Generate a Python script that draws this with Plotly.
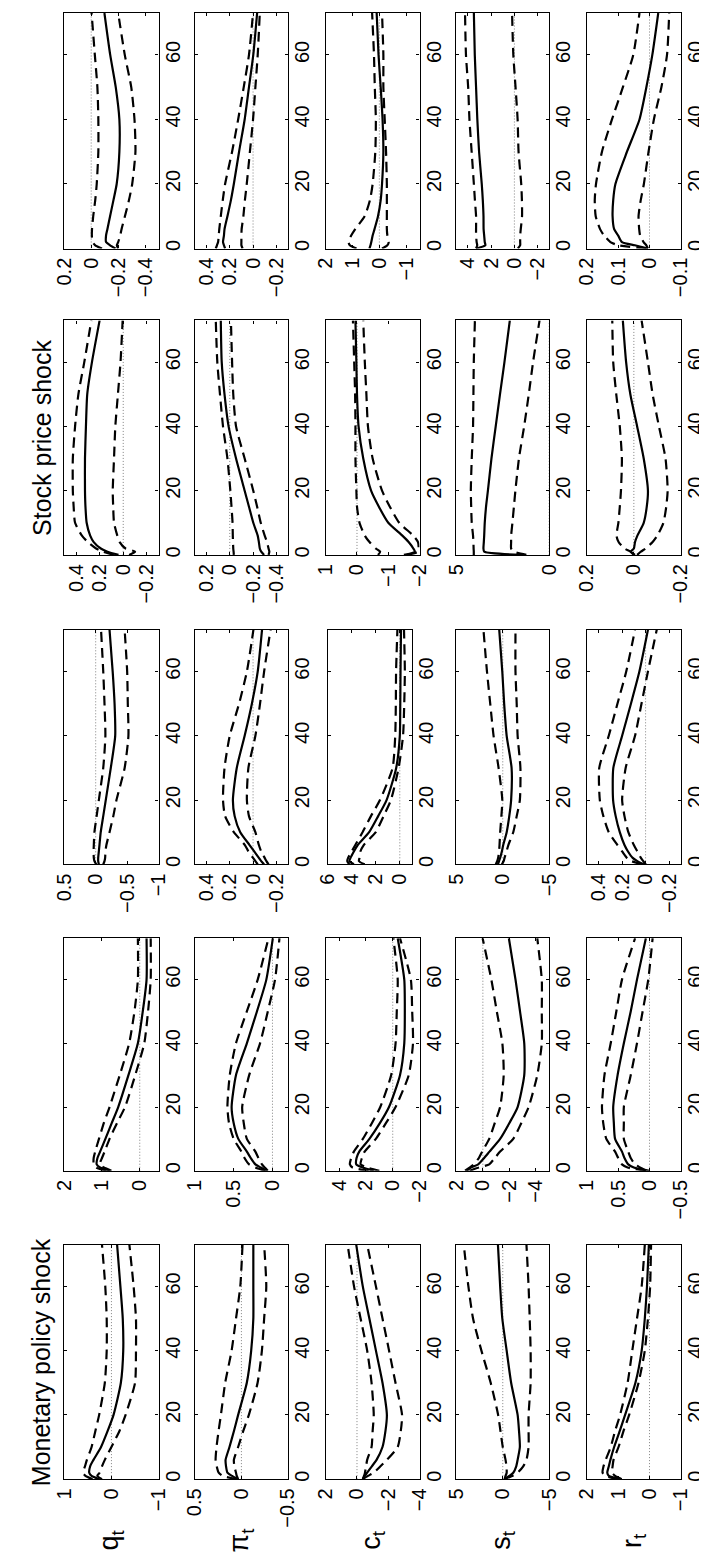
import plotly.graph_objects as go

W, H = 707, 1560
HORIZON = 73
T = [0, 1, 2, 4, 6, 10, 15, 20, 30, 40, 50, 60, 73]
TIME_TICKS = [0, 20, 40, 60]
VARS = ["q", "pi", "c", "s", "r"]
VAR_LABELS = ["q<sub>t</sub>", "π<sub>t</sub>", "c<sub>t</sub>", "s<sub>t</sub>", "r<sub>t</sub>"]
COL_TITLES = {1: "Monetary policy shock", 4: "Stock price shock"}

# ---------------- column 1 : Monetary policy shock ----------------
q1_med = [0.26, 0.42, 0.47, 0.45, 0.38, 0.22, 0.08, -0.045, -0.2, -0.25, -0.24, -0.19, -0.12]
q1_up = [0.4, 0.55, 0.6, 0.56, 0.52, 0.42, 0.34, 0.26, 0.14, 0.1, 0.1, 0.13, 0.2]
q1_lo = [0.2, 0.3, 0.25, 0.2, 0.14, 0.0, -0.17, -0.3, -0.5, -0.52, -0.52, -0.47, -0.38]
pi1_med = [0.035, 0.1, 0.15, 0.165, 0.17, 0.128, 0.08, 0.035, -0.058, -0.105, -0.128, -0.128, -0.128]
pi1_up = [0.05, 0.2, 0.244, 0.265, 0.277, 0.267, 0.245, 0.22, 0.174, 0.105, 0.058, 0.012, -0.012]
pi1_lo = [0.035, 0.05, 0.058, 0.075, 0.081, 0.035, -0.02, -0.08, -0.174, -0.22, -0.244, -0.267, -0.244]
c1_med = [-0.37, -0.5, -0.65, -0.95, -1.25, -1.63, -1.82, -1.91, -1.63, -1.21, -0.79, -0.37, 0.05]
c1_up = [-0.37, -0.45, -0.51, -0.58, -0.65, -0.93, -1.0, -1.07, -0.93, -0.65, -0.23, 0.19, 0.6]
c1_lo = [-0.37, -0.7, -1.07, -1.5, -1.91, -2.6, -2.8, -2.88, -2.46, -2.05, -1.63, -1.21, -0.65]
s1_med = [-0.19, -0.7, -1.13, -1.45, -1.6, -1.84, -1.75, -1.6, -0.9, -0.42, 0.05, 0.28, 0.52]
s1_up = [-0.19, -0.3, -0.42, -0.4, -0.3, 0.0, 0.25, 0.5, 1.3, 2.3, 3.2, 3.7, 4.2]
s1_lo = [-0.19, -1.0, -1.6, -2.2, -2.55, -2.78, -2.78, -2.78, -3.0, -3.0, -2.9, -2.78, -2.55]
r1_med = [0.89, 1.3, 1.35, 1.3, 1.25, 1.13, 0.95, 0.78, 0.45, 0.25, 0.15, 0.08, 0.02]
r1_up = [1.0, 1.4, 1.5, 1.47, 1.4, 1.24, 1.1, 0.94, 0.7, 0.55, 0.4, 0.25, 0.15]
r1_lo = [0.89, 1.1, 1.2, 1.18, 1.15, 0.99, 0.83, 0.65, 0.35, 0.15, 0.05, -0.02, -0.05]

# ---------------- column 2 ----------------
q2_med = [0.8, 1.05, 1.14, 1.12, 1.05, 0.91, 0.74, 0.57, 0.3, 0.05, -0.08, -0.18, -0.18]
q2_up = [0.9, 1.15, 1.22, 1.22, 1.18, 1.08, 0.95, 0.8, 0.53, 0.28, 0.14, 0.05, 0.05]
q2_lo = [0.75, 0.95, 1.06, 1.0, 0.93, 0.8, 0.6, 0.39, 0.12, -0.12, -0.22, -0.29, -0.29]
pi2_med = [0.079, 0.15, 0.22, 0.28, 0.33, 0.44, 0.5, 0.526, 0.47, 0.33, 0.2, 0.079, -0.005]
pi2_up = [0.1, 0.22, 0.3, 0.36, 0.4, 0.5, 0.56, 0.58, 0.55, 0.47, 0.33, 0.19, 0.051]
pi2_lo = [0.06, 0.1, 0.135, 0.18, 0.22, 0.33, 0.37, 0.39, 0.3, 0.16, 0.06, -0.033, -0.09]
c2_med = [1.42, 2.23, 2.72, 2.7, 2.5, 1.74, 0.95, 0.28, -0.54, -0.86, -0.9, -0.86, -0.37]
c2_up = [1.8, 3.0, 3.2, 3.1, 2.9, 2.23, 1.55, 0.93, 0.12, -0.21, -0.3, -0.37, -0.05]
c2_lo = [1.0, 1.9, 2.4, 2.3, 2.1, 1.26, 0.5, -0.21, -1.19, -1.51, -1.45, -1.35, -0.54]
s2_med = [1.2, 0.9, 0.35, -0.1, -0.5, -1.3, -2.0, -2.62, -3.12, -3.12, -2.8, -2.46, -1.96]
s2_up = [1.34, 1.0, 0.68, 0.3, 0.05, -0.48, -0.9, -1.3, -1.57, -1.47, -1.05, -0.64, 0.02]
s2_lo = [1.0, 0.3, -0.48, -0.9, -1.3, -2.29, -2.9, -3.45, -4.1, -4.44, -4.44, -4.44, -4.1]
r2_med = [0.0, 0.25, 0.34, 0.4, 0.44, 0.55, 0.57, 0.58, 0.51, 0.41, 0.3, 0.2, 0.058]
r2_up = [0.06, 0.35, 0.44, 0.5, 0.55, 0.69, 0.74, 0.76, 0.72, 0.62, 0.53, 0.44, 0.23]
r2_lo = [0.06, 0.15, 0.23, 0.3, 0.34, 0.41, 0.41, 0.41, 0.3, 0.2, 0.11, 0.02, -0.05]

# ---------------- column 3 ----------------
q3_med = [-0.05, -0.04, -0.04, -0.05, -0.06, -0.08, -0.12, -0.16, -0.24, -0.31, -0.3, -0.27, -0.22]
q3_up = [-0.01, 0.02, 0.03, 0.033, 0.03, 0.02, -0.015, -0.05, -0.12, -0.154, -0.14, -0.12, -0.085]
q3_lo = [-0.12, -0.14, -0.15, -0.155, -0.17, -0.22, -0.28, -0.33, -0.46, -0.52, -0.51, -0.5, -0.46]
pi3_med = [-0.095, -0.07, -0.05, -0.01, 0.03, 0.11, 0.158, 0.173, 0.14, 0.072, 0.01, -0.04, -0.077]
pi3_up = [-0.04, -0.02, 0.0, 0.04, 0.07, 0.165, 0.24, 0.258, 0.245, 0.2, 0.12, 0.053, -0.003]
pi3_lo = [-0.133, -0.115, -0.1, -0.07, -0.05, -0.02, 0.035, 0.053, 0.04, -0.02, -0.06, -0.095, -0.15]
c3_med = [3.82, 4.19, 4.1, 3.82, 3.5, 2.55, 1.8, 1.1, 0.3, 0.0, -0.04, -0.06, -0.1]
c3_up = [4.2, 4.37, 4.3, 4.0, 3.7, 3.1, 2.4, 1.65, 0.6, 0.38, 0.33, 0.31, 0.2]
c3_lo = [2.92, 3.4, 3.35, 3.28, 3.0, 2.0, 1.35, 0.74, 0.1, -0.27, -0.37, -0.42, -0.35]
s3_med = [0.52, 0.4, 0.28, 0.1, -0.05, -0.42, -0.7, -0.9, -0.95, -0.42, -0.15, 0.05, 0.38]
s3_up = [0.75, 0.6, 0.5, 0.4, 0.35, 0.28, 0.15, 0.05, 0.45, 0.99, 1.35, 1.7, 2.08]
s3_lo = [0.1, -0.1, -0.19, -0.4, -0.6, -1.13, -1.5, -1.84, -1.9, -1.6, -1.5, -1.37, -1.37]
r3_med = [0.016, 0.07, 0.11, 0.15, 0.18, 0.22, 0.255, 0.277, 0.275, 0.2, 0.125, 0.053, -0.02]
r3_up = [0.03, 0.12, 0.16, 0.2, 0.24, 0.314, 0.36, 0.39, 0.395, 0.314, 0.24, 0.165, 0.09]
r3_lo = [-0.002, 0.02, 0.04, 0.07, 0.1, 0.147, 0.18, 0.2, 0.17, 0.09, 0.035, -0.02, -0.095]

# ---------------- column 4 : Stock price shock ----------------
q4_med = [0.04, 0.133, 0.19, 0.25, 0.28, 0.31, 0.32, 0.324, 0.324, 0.316, 0.305, 0.265, 0.2]
q4_up = [0.08, 0.17, 0.23, 0.3, 0.35, 0.408, 0.42, 0.427, 0.427, 0.408, 0.38, 0.33, 0.27]
q4_lo = [-0.05, -0.1, -0.02, 0.03, 0.05, 0.078, 0.085, 0.089, 0.078, 0.067, 0.045, 0.023, 0.005]
pi4_med = [-0.295, -0.27, -0.258, -0.25, -0.24, -0.202, -0.165, -0.128, -0.054, 0.01, 0.045, 0.069, 0.077]
pi4_up = [-0.035, -0.033, -0.03, -0.028, -0.026, -0.024, -0.015, -0.005, 0.02, 0.058, 0.084, 0.107, 0.12]
pi4_lo = [-0.333, -0.34, -0.333, -0.32, -0.3, -0.266, -0.235, -0.202, -0.128, -0.054, -0.03, -0.02, -0.01]
c4_med = [-1.5, -1.85, -1.8, -1.65, -1.45, -1.0, -0.7, -0.45, -0.2, -0.05, 0.0, 0.02, 0.05]
c4_up = [-0.67, -0.74, -0.6, -0.4, -0.25, -0.08, 0.0, 0.02, 0.05, 0.05, 0.06, 0.09, 0.13]
c4_lo = [-1.6, -1.95, -1.97, -1.95, -1.8, -1.35, -1.05, -0.8, -0.5, -0.35, -0.3, -0.25, -0.2]
s4_med = [1.46, 3.5, 3.54, 3.52, 3.5, 3.47, 3.4, 3.3, 3.11, 2.88, 2.65, 2.41, 2.12]
s4_up = [4.06, 4.06, 4.07, 4.08, 4.1, 4.17, 4.2, 4.22, 4.17, 4.1, 4.08, 4.06, 4.0]
s4_lo = [1.23, 1.9, 2.05, 2.05, 2.05, 1.98, 1.9, 1.82, 1.63, 1.35, 1.1, 0.87, 0.52]
r4_med = [-0.005, 0.014, 0.0, -0.005, -0.015, -0.042, -0.055, -0.06, -0.042, -0.014, 0.015, 0.033, 0.047]
r4_up = [0.0, 0.014, 0.04, 0.065, 0.074, 0.066, 0.06, 0.055, 0.051, 0.06, 0.075, 0.088, 0.092]
r4_lo = [-0.014, -0.03, -0.05, -0.08, -0.1, -0.126, -0.138, -0.144, -0.135, -0.107, -0.08, -0.06, -0.033]

# ---------------- column 5 ----------------
q5_med = [-0.18, -0.14, -0.11, -0.11, -0.12, -0.14, -0.165, -0.189, -0.209, -0.209, -0.182, -0.141, -0.098]
q5_up = [-0.08, -0.03, -0.01, -0.005, -0.006, -0.015, -0.03, -0.041, -0.053, -0.053, -0.046, -0.027, -0.003]
q5_lo = [-0.2, -0.19, -0.2, -0.215, -0.225, -0.25, -0.28, -0.304, -0.328, -0.321, -0.297, -0.249, -0.2]
pi5_med = [0.24, 0.25, 0.258, 0.25, 0.245, 0.22, 0.19, 0.165, 0.12, 0.072, 0.035, -0.002, -0.035]
pi5_up = [0.32, 0.31, 0.3, 0.295, 0.29, 0.277, 0.26, 0.24, 0.18, 0.128, 0.08, 0.035, 0.0]
pi5_lo = [0.09, 0.1, 0.1, 0.1, 0.098, 0.083, 0.07, 0.054, 0.027, 0.0, -0.02, -0.04, -0.058]
c5_med = [0.37, 0.33, 0.3, 0.25, 0.18, 0.05, -0.05, -0.1, -0.15, -0.12, -0.05, 0.03, 0.1]
c5_up = [0.85, 1.1, 1.15, 1.05, 0.9, 0.55, 0.35, 0.25, 0.15, 0.13, 0.17, 0.2, 0.27]
c5_lo = [-0.1, -0.3, -0.35, -0.3, -0.28, -0.28, -0.28, -0.28, -0.25, -0.2, -0.15, -0.15, -0.1]
s5_med = [3.3, 2.5, 2.55, 2.6, 2.65, 2.66, 2.72, 2.81, 3.04, 3.19, 3.3, 3.41, 3.49]
s5_up = [3.3, 3.2, 3.25, 3.3, 3.3, 3.3, 3.4, 3.49, 3.68, 3.87, 3.98, 4.17, 4.25]
s5_lo = [-0.3, -0.5, -0.5, -0.5, -0.55, -0.66, -0.65, -0.59, -0.36, -0.28, -0.1, 0.09, 0.2]
r5_med = [0.005, 0.047, 0.088, 0.1, 0.113, 0.118, 0.116, 0.109, 0.072, 0.032, 0.01, -0.009, -0.028]
r5_up = [0.01, 0.1, 0.125, 0.145, 0.158, 0.172, 0.175, 0.171, 0.152, 0.12, 0.085, 0.052, 0.032]
r5_lo = [0.005, 0.01, 0.019, 0.03, 0.033, 0.035, 0.028, 0.018, 0.003, -0.014, -0.038, -0.056, -0.063]

DATA = {
    1: {"q": (q1_med, q1_up, q1_lo), "pi": (pi1_med, pi1_up, pi1_lo), "c": (c1_med, c1_up, c1_lo),
        "s": (s1_med, s1_up, s1_lo), "r": (r1_med, r1_up, r1_lo)},
    2: {"q": (q2_med, q2_up, q2_lo), "pi": (pi2_med, pi2_up, pi2_lo), "c": (c2_med, c2_up, c2_lo),
        "s": (s2_med, s2_up, s2_lo), "r": (r2_med, r2_up, r2_lo)},
    3: {"q": (q3_med, q3_up, q3_lo), "pi": (pi3_med, pi3_up, pi3_lo), "c": (c3_med, c3_up, c3_lo),
        "s": (s3_med, s3_up, s3_lo), "r": (r3_med, r3_up, r3_lo)},
    4: {"q": (q4_med, q4_up, q4_lo), "pi": (pi4_med, pi4_up, pi4_lo), "c": (c4_med, c4_up, c4_lo),
        "s": (s4_med, s4_up, s4_lo), "r": (r4_med, r4_up, r4_lo)},
    5: {"q": (q5_med, q5_up, q5_lo), "pi": (pi5_med, pi5_up, pi5_lo), "c": (c5_med, c5_up, c5_lo),
        "s": (s5_med, s5_up, s5_lo), "r": (r5_med, r5_up, r5_lo)},
}

# value-axis limits and ticks for each panel
LIMITS = {
    1: {"q": (-1, 1), "pi": (-0.5, 0.5), "c": (-4, 2), "s": (-5, 5), "r": (-1, 2)},
    2: {"q": (-0.5, 2), "pi": (-0.2, 1), "c": (-2, 5), "s": (-5, 2), "r": (-0.5, 1)},
    3: {"q": (-1, 0.5), "pi": (-0.3, 0.5), "c": (-1, 6), "s": (-5, 5), "r": (-0.3, 0.5)},
    4: {"q": (-0.3, 0.5), "pi": (-0.5, 0.3), "c": (-2, 1), "s": (0, 5), "r": (-0.2, 0.2)},
    5: {"q": (-0.5, 0.2), "pi": (-0.3, 0.5), "c": (-1.5, 2), "s": (-3, 5), "r": (-0.1, 0.2)},
}
TICKS = {
    1: {"q": [-1, 0, 1], "pi": [-0.5, 0, 0.5], "c": [-4, -2, 0, 2], "s": [-5, 0, 5], "r": [-1, 0, 1, 2]},
    2: {"q": [0, 1, 2], "pi": [0, 0.5, 1], "c": [-2, 0, 2, 4], "s": [-4, -2, 0, 2], "r": [-0.5, 0, 0.5, 1]},
    3: {"q": [-1, -0.5, 0, 0.5], "pi": [-0.2, 0, 0.2, 0.4], "c": [0, 2, 4, 6], "s": [-5, 0, 5], "r": [-0.2, 0, 0.2, 0.4]},
    4: {"q": [-0.2, 0, 0.2, 0.4], "pi": [-0.4, -0.2, 0, 0.2], "c": [-2, -1, 0, 1], "s": [0, 5], "r": [-0.2, 0, 0.2]},
    5: {"q": [-0.4, -0.2, 0, 0.2], "pi": [-0.2, 0, 0.2, 0.4], "c": [-1, 0, 1, 2], "s": [-2, 0, 2, 4], "r": [-0.1, 0, 0.1, 0.2]},
}

# ---------------- layout geometry (pixels) ----------------
COL_X = [(45.7, 143.3), (180.7, 277.0), (316.0, 413.0), (451.0, 547.0), (586.0, 683.0)]
SPECIAL_X = {(3, "c"): (318.0, 405.0)}
BAND_Y = {1: (1239, 1474), 2: (932, 1165), 3: (623, 858), 4: (313, 548), 5: (5, 241)}

FONT = "Liberation Sans, Arial, Helvetica, sans-serif"
DASH = "10px,6px"


def fmt(v):
    s = f"{v:g}"
    return s.replace("-", "\u2212")


fig = go.Figure()
layout = {}
k = 0
for col in range(1, 6):
    for j, var in enumerate(VARS):
        k += 1
        xa = "x" if k == 1 else f"x{k}"
        ya = "y" if k == 1 else f"y{k}"
        med, up, lo = DATA[col][var]
        vmin, vmax = LIMITS[col][var]
        pad = (vmax - vmin) * 1e-6
        fig.add_trace(go.Scatter(x=[0, 0], y=[0, HORIZON], mode="lines",
                                 line=dict(color="#808080", width=1, dash="1px,2px"),
                                 xaxis=xa, yaxis=ya, hoverinfo="skip", showlegend=False))
        for series, dash in ((up, DASH), (lo, DASH), (med, "solid")):
            fig.add_trace(go.Scatter(x=series, y=T, mode="lines",
                                     line=dict(color="black", width=2.2, dash=dash,
                                               shape="spline", smoothing=0.6),
                                     xaxis=xa, yaxis=ya, hoverinfo="skip", showlegend=False))
        x0, x1 = SPECIAL_X.get((col, var), COL_X[j])
        y0, y1 = BAND_Y[col]
        ticks = TICKS[col][var]
        layout["xaxis" if k == 1 else f"xaxis{k}"] = dict(
            domain=[x0 / W, x1 / W], anchor=ya, range=[vmax + pad, vmin - pad],
            tickmode="array", tickvals=ticks, ticktext=[fmt(v) for v in ticks],
            tickangle=-90, ticks="inside", ticklen=3, tickcolor="black",
            showline=True, mirror="ticks", linecolor="black", linewidth=1.3,
            showgrid=False, zeroline=False, fixedrange=True,
            tickfont=dict(family=FONT, size=20, color="black"))
        layout["yaxis" if k == 1 else f"yaxis{k}"] = dict(
            domain=[1 - y1 / H, 1 - y0 / H], anchor=xa, side="right",
            range=[-0.01, HORIZON],
            tickmode="array", tickvals=TIME_TICKS, ticktext=[str(v) for v in TIME_TICKS],
            tickangle=-90, ticks="inside", ticklen=3, tickcolor="black",
            ticklabelstandoff=-4,
            showline=True, mirror="ticks", linecolor="black", linewidth=1.3,
            showgrid=False, zeroline=False, fixedrange=True,
            tickfont=dict(family=FONT, size=20, color="black"))

annotations = []
for j, lab in enumerate(VAR_LABELS):
    cx = (COL_X[j][0] + COL_X[j][1]) / 2
    annotations.append(dict(text=lab, x=cx / W, y=1 - 1535 / H, xref="paper", yref="paper",
                            xanchor="center", yanchor="middle", textangle=-90, showarrow=False,
                            font=dict(family=FONT, size=27, color="black")))
for col, title in COL_TITLES.items():
    y0, y1 = BAND_Y[col]
    annotations.append(dict(text=title, x=22 / W, y=1 - ((y0 + y1) / 2) / H, xref="paper", yref="paper",
                            xanchor="center", yanchor="middle", textangle=-90, showarrow=False,
                            font=dict(family=FONT, size=25, color="black")))

fig.update_layout(width=W, height=H, margin=dict(l=0, r=0, t=0, b=0),
                  paper_bgcolor="white", plot_bgcolor="white", showlegend=False,
                  annotations=annotations, **layout)
fig.write_html("out.html")
